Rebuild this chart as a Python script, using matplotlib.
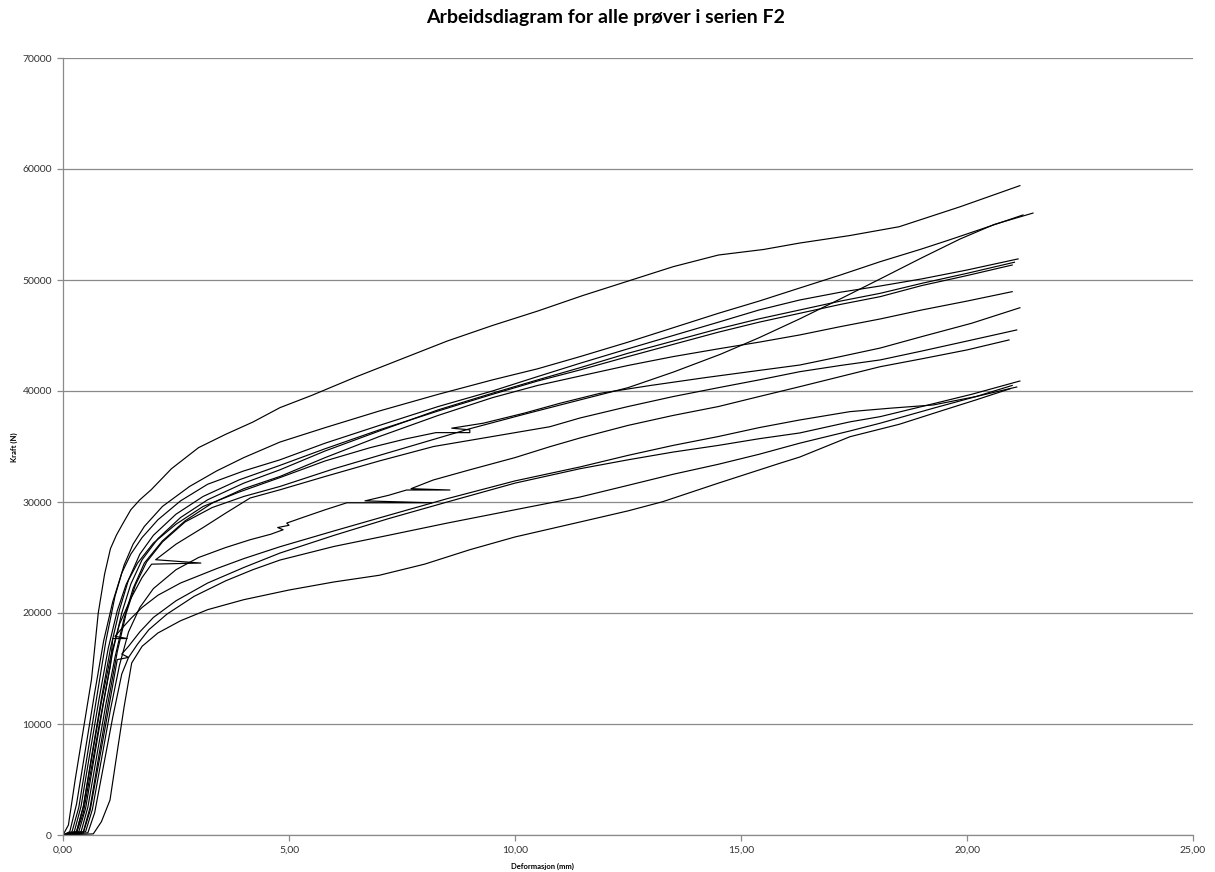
import matplotlib
matplotlib.use("Agg")
import matplotlib.pyplot as plt
from matplotlib.ticker import FuncFormatter, MultipleLocator

# Deformation (mm) / force (N) readings for every specimen in series F2
def_01 = [0, 0.12, 0.27, 0.45, 0.63, 0.78, 0.92, 1.05, 1.18, 1.33, 1.5, 1.7, 1.95, 2.4, 3.0, 3.6, 4.2, 4.8, 5.5, 6.5,
          7.5, 8.5, 9.5, 10.5, 11.5, 12.5, 13.5, 14.5, 15.5, 16.3, 17.4, 18.5, 19.85, 21.17]
kraft_01 = [0, 900, 5000, 9500, 14000, 20000, 23500, 25800, 27000, 28100, 29300, 30200, 31100, 33000, 34900, 36100,
            37200, 38500, 39600, 41300, 42900, 44500, 45900, 47200, 48600, 49900, 51200, 52250, 52750, 53330, 54000,
            54800, 56600, 58500]

def_02 = [0, 0.2, 0.35, 0.55, 0.75, 0.95, 1.15, 1.35, 1.55, 1.8, 2.2, 2.8, 3.4, 4.0, 4.8, 5.8, 7.0, 8.3, 9.5, 10.5,
          11.44, 12.5, 13.5, 14.5, 15.4, 16.3, 17.2, 18.08, 19.0, 19.6, 20.4, 21.24]
kraft_02 = [0, 300, 2500, 7500, 12500, 17500, 21500, 24300, 26200, 27800, 29600, 31400, 32800, 34000, 35400, 36700,
            38200, 39700, 41000, 42000, 43100, 44400, 45700, 47000, 48100, 49280, 50450, 51650, 52800, 53600, 54700,
            55860]

def_03 = [0, 0.15, 0.3, 0.5, 0.7, 0.9, 1.1, 1.3, 1.5, 1.75, 2.1, 2.6, 3.2, 4.0, 4.8, 5.8, 7.0, 8.3, 9.5, 10.5, 11.44,
          12.5, 13.5, 14.5, 15.4, 16.3, 17.2, 18.08, 19.0, 20.0, 21.13]
kraft_03 = [0, 300, 2800, 7800, 12800, 17500, 21000, 23600, 25300, 26800, 28400, 30100, 31600, 32800, 33800, 35300,
            36900, 38600, 40000, 41300, 42500, 43800, 45000, 46200, 47300, 48200, 48900, 49460, 50100, 50900, 51900]

def_04 = [0, 0.3, 0.45, 0.65, 0.85, 1.05, 1.25, 1.45, 1.7, 2.0, 2.5, 3.1, 3.9, 4.8, 5.8, 7.0, 8.3, 9.5, 10.5, 11.44,
          12.5, 13.5, 14.5, 15.4, 16.3, 17.2, 18.08, 19.0, 20.0, 21.0]
kraft_04 = [0, 300, 2600, 7500, 12300, 16800, 20300, 23000, 25300, 27000, 28900, 30500, 32000, 33300, 34800, 36500,
            38200, 39700, 40900, 41900, 43100, 44200, 45300, 46200, 47000, 47800, 48500, 49500, 50400, 51350]

def_05 = [0, 0.35, 0.5, 0.7, 0.9, 1.1, 1.3, 1.5, 1.75, 2.1, 2.6, 3.2, 4.0, 4.8, 5.8, 7.0, 8.3, 9.5, 10.5, 11.44,
          12.5, 13.5, 14.5, 15.4, 16.3, 17.2, 18.08, 19.0, 20.0, 21.05]
kraft_05 = [0, 300, 2400, 7200, 12000, 16500, 20000, 22600, 24800, 26700, 28600, 30200, 31700, 32900, 34600, 36400,
            38300, 39800, 41000, 42100, 43400, 44500, 45600, 46500, 47300, 48100, 48800, 49700, 50600, 51600]

def_06 = [0, 0.4, 0.55, 0.75, 0.95, 1.15, 1.35, 1.55, 1.8, 2.2, 2.7, 3.3, 4.0, 4.8, 5.8, 7.0, 8.3, 9.5, 10.5, 11.44,
          12.5, 13.5, 14.5, 15.4, 16.3, 17.2, 18.08, 19.0, 20.0, 21.0]
kraft_06 = [0, 300, 2500, 7200, 11800, 16000, 19500, 22200, 24500, 26500, 28300, 29900, 31200, 32300, 34000, 35900,
            37800, 39400, 40500, 41350, 42300, 43100, 43800, 44400, 45050, 45800, 46490, 47300, 48100, 48950]

def_07 = [0, 0.25, 0.4, 0.6, 0.8, 1.0, 1.2, 1.4, 1.65, 2.0, 2.5, 3.1, 3.9, 4.8, 5.8, 6.8, 7.6, 8.25, 9.0, 9.0, 8.6,
          9.3, 10.2, 11.0, 11.88, 13.0, 14.2, 15.3, 16.3, 17.2, 18.08, 19.0, 20.1, 21.17]
kraft_07 = [0, 300, 2600, 7500, 12300, 16800, 20200, 22600, 24500, 26300, 28000, 29600, 30900, 32200, 33700, 34900,
            35700, 36250, 36250, 36500, 36650, 37100, 38000, 38900, 39790, 40500, 41200, 41800, 42340, 43100, 43870,
            44900, 46100, 47500]

def_08 = [0, 0.45, 0.6, 0.8, 1.0, 1.2, 1.4, 1.6, 1.85, 2.2, 2.7, 3.3, 4.0, 4.8, 6.0, 7.5, 9.0, 10.2, 11.44, 12.5,
          13.5, 14.54, 15.4, 16.3, 17.2, 18.08, 19.0, 19.85, 20.6, 21.46]
kraft_08 = [0, 300, 2500, 7300, 12000, 16500, 20000, 22500, 24600, 26400, 28200, 29500, 30500, 31400, 33000, 34800,
            36600, 37900, 39200, 40300, 41700, 43300, 44800, 46500, 48300, 50100, 52000, 53700, 55000, 56030]

def_09 = [0, 0.3, 0.45, 0.65, 0.85, 1.05, 1.25, 1.5, 1.75, 1.96, 3.05, 2.05, 2.5, 3.1, 3.6, 4.14, 4.8, 5.8, 7.0, 8.2,
          9.5, 10.77, 11.44, 12.5, 13.5, 14.5, 15.4, 16.3, 17.2, 18.08, 19.0, 20.0, 21.1]
kraft_09 = [0, 300, 2500, 7300, 12000, 16000, 19000, 21300, 23200, 24400, 24500, 24800, 26200, 27700, 29000, 30360,
            31100, 32300, 33700, 35000, 35900, 36780, 37570, 38600, 39500, 40300, 41000, 41740, 42300, 42800, 43600,
            44500, 45500]

def_10 = [0, 0.5, 0.65, 0.85, 1.05, 1.25, 1.45, 1.7, 2.0, 2.5, 3.0, 3.6, 4.14, 4.6, 4.87, 4.75, 5.0, 4.95, 5.3, 5.8,
          6.28, 8.16, 6.68, 7.2, 7.6, 8.56, 7.7, 8.19, 9.0, 10.0, 10.77, 11.44, 12.5, 13.5, 14.5, 15.4, 16.3, 17.2,
          18.08, 19.0, 20.0, 20.93]
kraft_10 = [0, 300, 2300, 6800, 11300, 15300, 18300, 20500, 22200, 23900, 25000, 25900, 26600, 27100, 27500, 27700,
            27900, 28100, 28600, 29300, 29930, 29930, 30100, 30600, 31080, 31080, 31200, 31980, 32900, 34000, 34980,
            35770, 36900, 37800, 38600, 39500, 40390, 41300, 42190, 42900, 43700, 44600]

def_11 = [0, 0.3, 0.45, 0.65, 0.85, 1.05, 1.1, 1.42, 1.15, 1.3, 1.5, 1.75, 2.1, 2.6, 3.4, 4.0, 4.8, 6.0, 7.2, 8.5,
          10.0, 11.44, 12.5, 13.5, 14.5, 15.4, 16.3, 17.41, 18.3, 19.25, 20.2, 21.1]
kraft_11 = [0, 200, 2000, 6500, 11000, 15300, 17700, 17700, 17900, 18600, 19500, 20500, 21600, 22700, 24000, 24900,
            25970, 27400, 28800, 30300, 31900, 33160, 34200, 35100, 35900, 36700, 37390, 38140, 38450, 38740, 39500,
            40360]

def_12 = [0, 0.45, 0.6, 0.8, 1.0, 1.2, 1.45, 1.3, 1.45, 1.7, 2.0, 2.5, 3.2, 4.0, 4.8, 6.0, 7.2, 8.5, 10.0, 11.44,
          12.5, 13.5, 14.5, 15.4, 16.3, 17.41, 18.08, 19.0, 20.1, 21.17]
kraft_12 = [0, 200, 2200, 6700, 11200, 15800, 16000, 16300, 17000, 18300, 19600, 21100, 22700, 24100, 25400, 27000,
            28500, 30000, 31700, 33000, 33800, 34500, 35100, 35700, 36220, 37220, 37690, 38600, 39700, 40900]

def_13 = [0, 0.55, 0.7, 0.9, 1.1, 1.3, 1.45, 1.65, 1.9, 2.3, 2.9, 3.6, 4.2, 4.8, 6.0, 7.2, 8.5, 10.0, 11.44, 12.5,
          13.5, 14.5, 15.4, 16.3, 17.41, 18.08, 19.3, 20.2, 21.0]
kraft_13 = [0, 200, 2000, 6300, 10600, 14500, 16000, 17200, 18500, 19900, 21500, 22900, 23900, 24770, 26000, 27000,
            28100, 29300, 30450, 31500, 32500, 33400, 34300, 35300, 36400, 37100, 38500, 39500, 40500]

def_14 = [0, 0.67, 0.85, 1.04, 1.2, 1.35, 1.52, 1.75, 2.1, 2.6, 3.2, 4.0, 5.0, 6.0, 7.0, 8.0, 9.0, 10.0, 11.44, 12.5,
          13.27, 14.5, 15.86, 16.3, 17.41, 18.5, 19.5, 20.2, 20.95]
kraft_14 = [0, 100, 1200, 3150, 7500, 11500, 15500, 17000, 18200, 19300, 20300, 21200, 22070, 22800, 23400, 24400,
            25700, 26850, 28200, 29200, 30030, 31700, 33490, 34050, 35880, 37000, 38300, 39200, 40200]

prover = [
    (def_01, kraft_01), (def_02, kraft_02), (def_03, kraft_03), (def_04, kraft_04),
    (def_05, kraft_05), (def_06, kraft_06), (def_07, kraft_07), (def_08, kraft_08),
    (def_09, kraft_09), (def_10, kraft_10), (def_11, kraft_11), (def_12, kraft_12),
    (def_13, kraft_13), (def_14, kraft_14),
]

plt.rcParams["font.family"] = ["Lato", "DejaVu Sans"]

W, H = 1215, 872
fig = plt.figure(figsize=(W / 100, H / 100), dpi=100)
ax = fig.add_axes([63 / W, 1 - 835 / H, (1193 - 63) / W, (835 - 58) / H])

for d, k in prover:
    ax.plot(d, k, color="black", linewidth=0.85, solid_joinstyle="round")

ax.set_xlim(0, 25)
ax.set_ylim(0, 70000)
ax.xaxis.set_major_locator(MultipleLocator(5))
ax.yaxis.set_major_locator(MultipleLocator(10000))
ax.xaxis.set_major_formatter(FuncFormatter(lambda v, p: f"{v:.2f}".replace(".", ",")))
ax.yaxis.set_major_formatter(FuncFormatter(lambda v, p: f"{int(v)}"))

grid_col = "#8a8a8a"
ax.grid(axis="y", color=grid_col, linewidth=0.9)
ax.set_axisbelow(True)
for s in ("top", "right"):
    ax.spines[s].set_visible(False)
for s in ("left", "bottom"):
    ax.spines[s].set_color(grid_col)
    ax.spines[s].set_linewidth(0.9)
ax.tick_params(axis="both", colors=grid_col, length=4, width=0.9, direction="out",
               labelsize=7.5, labelcolor="#333333", pad=4)

fig.text(606 / W, 1 - 18 / H, "Arbeidsdiagram for alle prøver i serien F2",
         ha="center", va="center", fontsize=14, fontweight="bold", color="black")
fig.text(542 / W, 1 - 866 / H, "Deformasjon (mm)", ha="center", va="center",
         fontsize=5.5, fontweight="bold", color="black")
fig.text(14 / W, 1 - 447 / H, "Kraft (N)", ha="center", va="center", rotation=90,
         fontsize=5.5, fontweight="bold", color="black")

fig.savefig("out.png", dpi=100, facecolor="white")
